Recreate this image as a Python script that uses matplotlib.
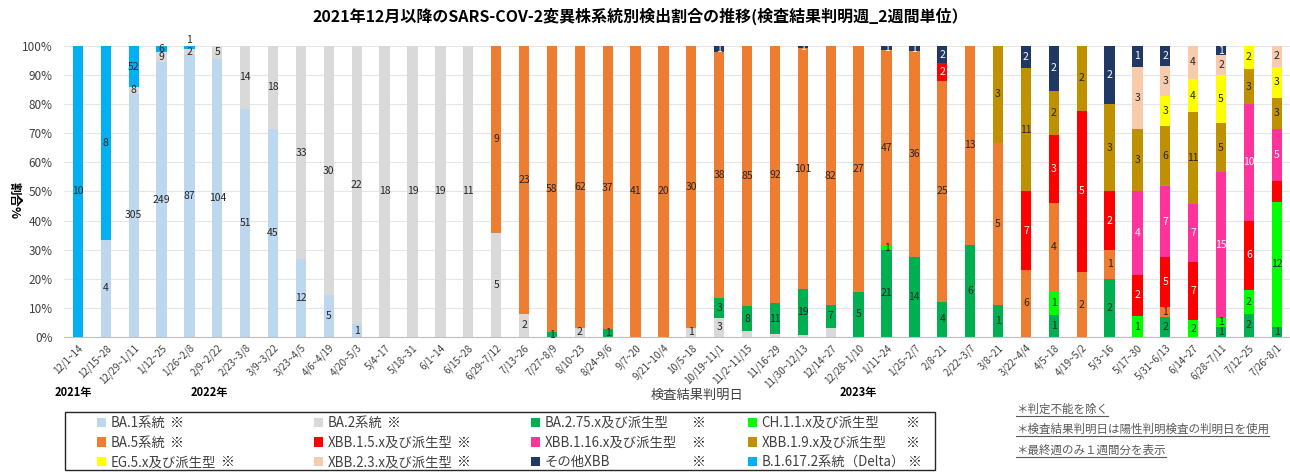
import matplotlib
matplotlib.use('Agg')
import matplotlib.pyplot as plt
from matplotlib.patches import Patch, Rectangle
from matplotlib.lines import Line2D
import numpy as np

plt.rcParams['font.family'] = ['Noto Sans CJK JP', 'DejaVu Sans']

# 検査結果判明週（2週間単位）
periods = ['12/1~14', '12/15~28', '12/29~1/11', '1/12~25', '1/26~2/8', '2/9~2/22',
           '2/23~3/8', '3/9~3/22', '3/23~4/5', '4/6~4/19', '4/20~5/3', '5/4~17',
           '5/18~31', '6/1~14', '6/15~28', '6/29~7/12', '7/13~26', '7/27~8/9',
           '8/10~23', '8/24~9/6', '9/7~20', '9/21~10/4', '10/5~18', '10/19~11/1',
           '11/2~11/15', '11/16~29', '11/30~12/13', '12/14~27', '12/28~1/10',
           '1/11~24', '1/25~2/7', '2/8~21', '2/22~3/7', '3/8~21', '3/22~4/4',
           '4/5~18', '4/19~5/2', '5/3~16', '5/17~30', '5/31~6/13', '6/14~27',
           '6/28~7/11', '7/12~25', '7/26~8/1']

# 系統別検出数（下から積み上げ順）
ba1 = [0, 4, 305, 249, 87, 104, 51, 45, 12, 5, 1,
       0, 0, 0, 0, 0, 0, 0, 0, 0, 0, 0,
       0, 0, 0, 0, 0, 0, 0, 0, 0, 0, 0,
       0, 0, 0, 0, 0, 0, 0, 0, 0, 0, 0]
ba2 = [0, 0, 8, 9, 2, 5, 14, 18, 33, 30, 22,
       18, 19, 19, 11, 5, 2, 0, 2, 0, 0, 0,
       1, 3, 2, 1, 1, 3, 0, 0, 0, 0, 0,
       0, 0, 0, 0, 0, 0, 0, 0, 0, 0, 0]
ba275 = [0, 0, 0, 0, 0, 0, 0, 0, 0, 0, 0,
         0, 0, 0, 0, 0, 0, 1, 0, 1, 0, 0,
         0, 3, 8, 11, 19, 7, 5, 21, 14, 4, 6,
         1, 0, 1, 0, 2, 0, 2, 0, 1, 2, 1]
ch11 = [0, 0, 0, 0, 0, 0, 0, 0, 0, 0, 0,
        0, 0, 0, 0, 0, 0, 0, 0, 0, 0, 0,
        0, 0, 0, 0, 0, 0, 0, 1, 0, 0, 0,
        0, 0, 1, 0, 0, 1, 0, 2, 1, 2, 12]
ba5 = [0, 0, 0, 0, 0, 0, 0, 0, 0, 0, 0,
       0, 0, 0, 0, 9, 23, 58, 62, 37, 41, 20,
       30, 38, 85, 92, 101, 82, 27, 47, 36, 25, 13,
       5, 6, 4, 2, 1, 0, 1, 0, 0, 0, 0]
xbb15 = [0, 0, 0, 0, 0, 0, 0, 0, 0, 0, 0,
         0, 0, 0, 0, 0, 0, 0, 0, 0, 0, 0,
         0, 0, 0, 0, 0, 0, 0, 0, 0, 2, 0,
         0, 7, 3, 5, 2, 2, 5, 7, 0, 6, 2]
xbb116 = [0, 0, 0, 0, 0, 0, 0, 0, 0, 0, 0,
          0, 0, 0, 0, 0, 0, 0, 0, 0, 0, 0,
          0, 0, 0, 0, 0, 0, 0, 0, 0, 0, 0,
          0, 0, 0, 0, 0, 4, 7, 7, 15, 10, 5]
xbb19 = [0, 0, 0, 0, 0, 0, 0, 0, 0, 0, 0,
         0, 0, 0, 0, 0, 0, 0, 0, 0, 0, 0,
         0, 0, 0, 0, 0, 0, 0, 0, 0, 0, 0,
         3, 11, 2, 2, 3, 3, 6, 11, 5, 3, 3]
eg5 = [0, 0, 0, 0, 0, 0, 0, 0, 0, 0, 0,
       0, 0, 0, 0, 0, 0, 0, 0, 0, 0, 0,
       0, 0, 0, 0, 0, 0, 0, 0, 0, 0, 0,
       0, 0, 0, 0, 0, 0, 3, 4, 5, 2, 3]
xbb23 = [0, 0, 0, 0, 0, 0, 0, 0, 0, 0, 0,
         0, 0, 0, 0, 0, 0, 0, 0, 0, 0, 0,
         0, 0, 0, 0, 0, 0, 0, 0, 0, 0, 0,
         0, 0, 0, 0, 0, 3, 3, 4, 2, 0, 2]
other_xbb = [0, 0, 0, 0, 0, 0, 0, 0, 0, 0, 0,
             0, 0, 0, 0, 0, 0, 0, 0, 0, 0, 0,
             0, 1, 0, 0, 1, 0, 0, 1, 1, 2, 0,
             0, 2, 2, 0, 2, 1, 2, 0, 1, 0, 0]
delta = [10, 8, 52, 6, 1, 0, 0, 0, 0, 0, 0,
         0, 0, 0, 0, 0, 0, 0, 0, 0, 0, 0,
         0, 0, 0, 0, 0, 0, 0, 0, 0, 0, 0,
         0, 0, 0, 0, 0, 0, 0, 0, 0, 0, 0]

series = [ba1, ba2, ba275, ch11, ba5, xbb15, xbb116, xbb19, eg5, xbb23, other_xbb, delta]
names = ['BA.1系統', 'BA.2系統', 'BA.2.75.x及び派生型', 'CH.1.1.x及び派生型',
         'BA.5系統', 'XBB.1.5.x及び派生型', 'XBB.1.16.x及び派生型', 'XBB.1.9.x及び派生型',
         'EG.5.x及び派生型', 'XBB.2.3.x及び派生型', 'その他XBB', 'B.1.617.2系統（Delta）']
colors = ['#BDD7EE', '#D9D9D9', '#00B050', '#00FF00', '#ED7D31', '#FF0000',
          '#FF3399', '#BF9000', '#FFFF00', '#F8CBAD', '#203864', '#00B0F0']
white_text = {5, 6, 10}  # 赤・ピンク・紺は白文字
# ラベルなしのセグメント (棒, 系統)
no_label = {(24, 1), (25, 1), (26, 1), (27, 1), (43, 5)}
# 小さいセグメントのラベルを少し上へ
label_shift = {(4, 11): 2.5}

counts = np.array(series, dtype=float)
totals = counts.sum(axis=0)
pct = counts / totals * 100

fig = plt.figure(figsize=(12.9, 4.72), dpi=100)
ax = fig.add_axes([0.0496, 0.286, 0.951, 0.617])

x = np.arange(len(periods))
bottom = np.zeros(len(periods))
for i, (p, c) in enumerate(zip(pct, colors)):
    ax.bar(x, p, bottom=bottom, width=0.37, color=c, edgecolor='none', zorder=2)
    for j in range(len(periods)):
        if counts[i, j] > 0 and (j, i) not in no_label:
            ax.text(x[j], bottom[j] + p[j] / 2 + label_shift.get((j, i), 0),
                    str(int(counts[i, j])), ha='center', va='center', fontsize=7.5,
                    color='white' if i in white_text else '#262626', zorder=3, clip_on=False)
    bottom += p

ax.set_xlim(-0.5, len(periods) - 0.5)
ax.set_ylim(0, 100)
ax.set_yticks(np.arange(0, 101, 10))
ax.set_yticklabels([f'{v}%' for v in range(0, 101, 10)], fontsize=8.5, color='#404040')
ax.yaxis.grid(True, color='#E6E6E6', linewidth=0.8, zorder=0)
ax.set_axisbelow(True)
ax.set_xticks(x)
ax.set_xticklabels(periods, rotation=45, ha='right', rotation_mode='anchor',
                   fontsize=7, color='#404040')
ax.tick_params(axis='both', length=0)
ax.tick_params(axis='x', pad=4)
ax.tick_params(axis='y', pad=8)
for s in ['top', 'right', 'left']:
    ax.spines[s].set_visible(False)
ax.spines['bottom'].set_color('#BFBFBF')

ax.set_ylabel('割合%', rotation=270, fontsize=9, fontweight='bold')
ax.yaxis.label.set(ha='center', va='center')
ax.yaxis.set_label_coords(-0.041, 0.47)

# タイトル・年・軸タイトル
fig.text(640 / 1290, 0.966, '2021年12月以降のSARS-COV-2変異株系統別検出割合の推移(検査結果判明週_2週間単位）',
         ha='center', va='center', fontsize=11.5, fontweight='bold')
trans = ax.get_xaxis_transform()
ax.text(-0.15, -0.19, '2021年', transform=trans, ha='center', va='center', fontsize=8, fontweight='bold')
ax.text(4.7, -0.19, '2022年', transform=trans, ha='center', va='center', fontsize=8, fontweight='bold')
ax.text(28.0, -0.19, '2023年', transform=trans, ha='center', va='center', fontsize=8, fontweight='bold')
ax.text(22.2, -0.2, '検査結果判明日', transform=trans, ha='center', va='center', fontsize=9.5, color='#404040')

# 凡例（4列を個別に配置）
col_x = [97, 314, 531, 748]
mark_x = [None, None, 692, 906]
legend_texts = []
for k in range(4):
    idx = [k, k + 4, k + 8]
    hs = [Patch(facecolor=colors[i], edgecolor='none') for i in idx]
    leg = fig.legend(hs, [names[i] for i in idx], loc='upper left',
                     bbox_to_anchor=(col_x[k] / 1290, 1 - 416 / 472),
                     fontsize=9.6, frameon=False, handlelength=0.7, handleheight=0.7,
                     handletextpad=0.3, labelspacing=0.42, borderpad=0, borderaxespad=0)
    for t in leg.get_texts():
        t.set_color('#404040')
        legend_texts.append((k, t))
fig.add_artist(Rectangle((65 / 1290, 1 - 470 / 472), 870 / 1290, 58 / 472,
                         transform=fig.transFigure, fill=False, edgecolor='#262626', linewidth=1.0))

# 注記（下線付き）
notes = ['＊判定不能を除く', '＊検査結果判明日は陽性判明検査の判明日を使用', '＊最終週のみ１週間分を表示']
note_y = [409, 429, 450]
note_texts = []
for n, yy in zip(notes, note_y):
    note_texts.append(fig.text(1016 / 1290, 1 - yy / 472, n, ha='left', va='center',
                               fontsize=8.3, color='#595959'))

fig.canvas.draw()
renderer = fig.canvas.get_renderer()
inv = fig.transFigure.inverted()
for t in note_texts:
    bb = t.get_window_extent(renderer).transformed(inv)
    fig.add_artist(Line2D([bb.x0, bb.x1], [bb.y0 - 0.001, bb.y0 - 0.001],
                          transform=fig.transFigure, color='#595959', linewidth=0.8))

# 凡例の※マーク
for k, t in legend_texts:
    bb = t.get_window_extent(renderer).transformed(inv)
    yc = (bb.y0 + bb.y1) / 2
    if mark_x[k] is None:
        mx = bb.x1 + 5 / 1290
    else:
        mx = max(mark_x[k] / 1290, bb.x1 + 3 / 1290)
    fig.text(mx, yc, '※', ha='left', va='center', fontsize=10, fontweight='bold', color='black')

fig.savefig('out.png', dpi=100)
